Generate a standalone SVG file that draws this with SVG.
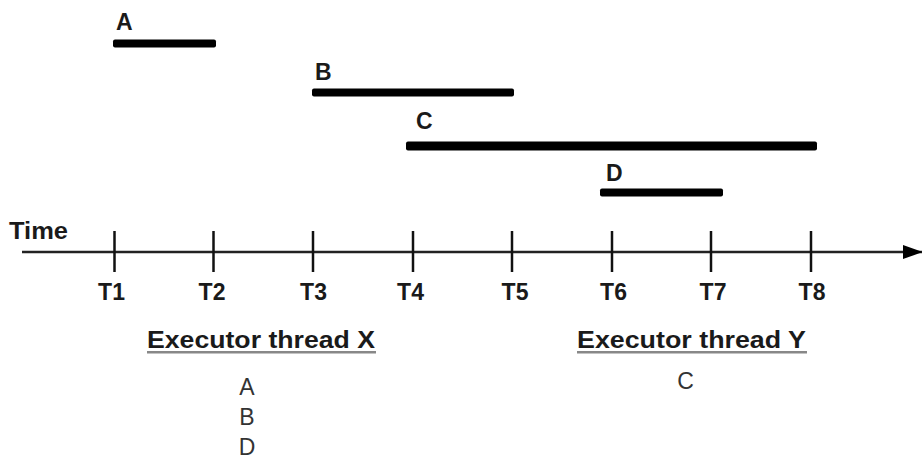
<svg xmlns="http://www.w3.org/2000/svg" width="922" height="457" viewBox="0 0 922 457">
<defs>
<style>
.lb{font-family:"Liberation Sans",Arial,sans-serif;font-weight:bold;font-size:23px;fill:#1a1a1a}
.lr{font-family:"Liberation Sans",Arial,sans-serif;font-size:23px;fill:#333}
.bar{fill:#000}
.tick{stroke:#111;stroke-width:2.5}
.ul{stroke:#888;stroke-width:2.5}
</style>
<marker id="arr" markerWidth="20" markerHeight="14" refX="19" refY="7" orient="auto" markerUnits="userSpaceOnUse">
<path d="M0,0 L20,7 L0,14 Z" fill="#000"/>
</marker>
</defs>
<g id="connectors">
<line x1="22" y1="252" x2="922" y2="252" stroke="#222" stroke-width="2.5" marker-end="url(#arr)"/>
</g>
<g id="ticks">
<line class="tick" x1="114.5" y1="231" x2="114.5" y2="272"/>
<line class="tick" x1="213.5" y1="231" x2="213.5" y2="272"/>
<line class="tick" x1="313" y1="231" x2="313" y2="272"/>
<line class="tick" x1="413" y1="231" x2="413" y2="272"/>
<line class="tick" x1="512" y1="231" x2="512" y2="272"/>
<line class="tick" x1="612" y1="231" x2="612" y2="272"/>
<line class="tick" x1="711" y1="231" x2="711" y2="272"/>
<line class="tick" x1="811" y1="231" x2="811" y2="272"/>
</g>
<g id="time-label"><text class="lb" x="9" y="239" textLength="59" lengthAdjust="spacingAndGlyphs">Time</text></g>
<g id="tick-labels" text-anchor="middle">
<text class="lb" x="111.5" y="300">T1</text>
<text class="lb" x="212" y="300">T2</text>
<text class="lb" x="313.5" y="300">T3</text>
<text class="lb" x="410.5" y="300">T4</text>
<text class="lb" x="515" y="300">T5</text>
<text class="lb" x="613.5" y="300">T6</text>
<text class="lb" x="713" y="300">T7</text>
<text class="lb" x="812" y="300">T8</text>
</g>
<g id="task-A">
<text class="lb" x="116" y="30">A</text>
<rect class="bar" x="113" y="39.5" width="103" height="8" rx="2"/>
</g>
<g id="task-B">
<text class="lb" x="315" y="80">B</text>
<rect class="bar" x="312" y="88.5" width="202" height="8" rx="2"/>
</g>
<g id="task-C">
<text class="lb" x="416" y="129">C</text>
<rect class="bar" x="406" y="141.5" width="411" height="9" rx="2"/>
</g>
<g id="task-D">
<text class="lb" x="606" y="181">D</text>
<rect class="bar" x="600" y="188.5" width="123" height="8" rx="2"/>
</g>
<g id="thread-X">
<text class="lb" x="147" y="348" textLength="228" lengthAdjust="spacingAndGlyphs">Executor thread X</text>
<line class="ul" x1="147" y1="352.3" x2="376" y2="352.3"/>
<g text-anchor="middle">
<text class="lr" x="247" y="395">A</text>
<text class="lr" x="247" y="425">B</text>
<text class="lr" x="247" y="455">D</text>
</g>
</g>
<g id="thread-Y">
<text class="lb" x="577" y="348" textLength="229" lengthAdjust="spacingAndGlyphs">Executor thread Y</text>
<line class="ul" x1="577" y1="352.3" x2="807" y2="352.3"/>
<text class="lr" x="685.5" y="389" text-anchor="middle">C</text>
</g>
</svg>
